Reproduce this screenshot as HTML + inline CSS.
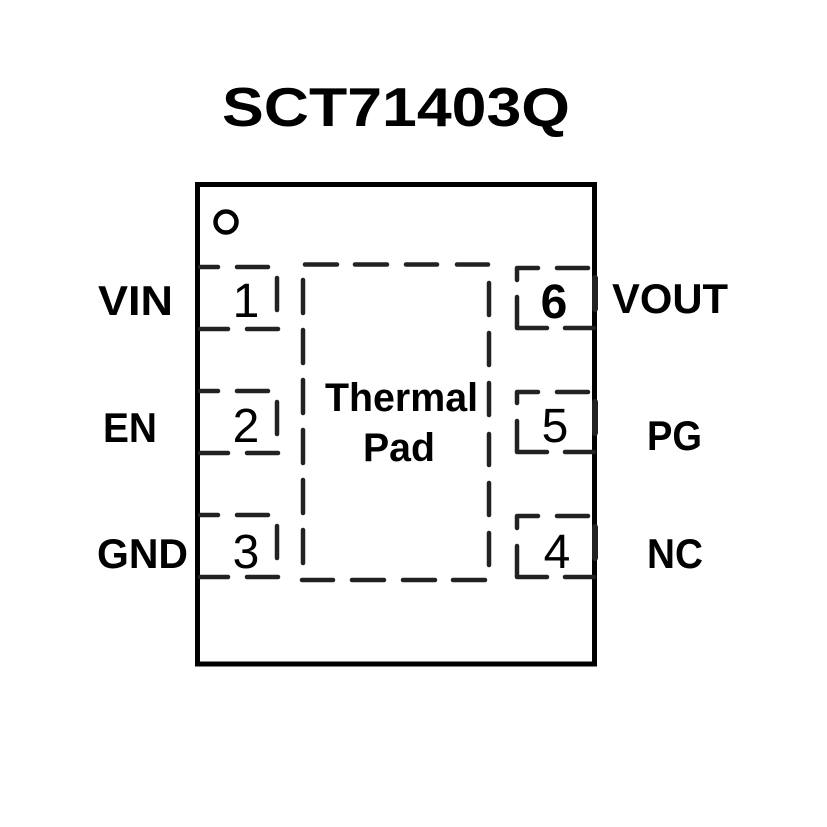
<!DOCTYPE html>
<html>
<head>
<meta charset="utf-8">
<style>
  html,body{margin:0;padding:0;background:#fff;}
  svg{display:block;}
  .lbl{font-family:"Liberation Sans",Arial,sans-serif;font-weight:bold;fill:#000;}
  .num{font-family:"Liberation Sans",Arial,sans-serif;fill:#000;}
</style>
</head>
<body>
<svg width="827" height="827" viewBox="0 0 827 827" xmlns="http://www.w3.org/2000/svg">
  <rect width="827" height="827" fill="#fff"/>

  <!-- Title -->
  <text class="lbl" x="222" y="126" font-size="55" textLength="348" lengthAdjust="spacingAndGlyphs">SCT71403Q</text>

  <!-- Outline -->
  <rect x="197.5" y="184.5" width="397" height="479.5" fill="none" stroke="#000" stroke-width="5"/>

  <!-- pin-1 marker -->
  <circle cx="226" cy="222" r="10.5" fill="none" stroke="#000" stroke-width="4.5"/>

  <!-- Thermal pad dashed -->
  <g stroke="#222" stroke-width="4.5" stroke-linecap="round" fill="none">
    <!-- top -->
    <line x1="305" y1="264.5" x2="337" y2="264.5"/>
    <line x1="355" y1="264.5" x2="387" y2="264.5"/>
    <line x1="406" y1="264.5" x2="437" y2="264.5"/>
    <line x1="457" y1="264.5" x2="488" y2="264.5"/>
    <!-- bottom -->
    <line x1="302" y1="580" x2="333" y2="580"/>
    <line x1="352" y1="580" x2="384" y2="580"/>
    <line x1="403" y1="580" x2="435" y2="580"/>
    <line x1="453" y1="580" x2="485" y2="580"/>
    <!-- left -->
    <line x1="303" y1="280" x2="303" y2="313"/>
    <line x1="303" y1="330" x2="303" y2="363"/>
    <line x1="303" y1="380" x2="303" y2="413"/>
    <line x1="303" y1="430" x2="303" y2="463"/>
    <line x1="303" y1="480" x2="303" y2="513"/>
    <line x1="303" y1="530" x2="303" y2="563"/>
    <!-- right -->
    <line x1="489" y1="283" x2="489" y2="315"/>
    <line x1="489" y1="333" x2="489" y2="365"/>
    <line x1="489" y1="383" x2="489" y2="415"/>
    <line x1="489" y1="434" x2="489" y2="465"/>
    <line x1="489" y1="483" x2="489" y2="515"/>
    <line x1="489" y1="533" x2="489" y2="565"/>
  </g>

  <!-- Left pin boxes -->
  <g stroke="#222" stroke-width="4.5" stroke-linecap="round" fill="none">
    <!-- pin 1: T=267 B=329 -->
    <line x1="200" y1="267" x2="218" y2="267"/>
    <line x1="237" y1="267" x2="268" y2="267"/>
    <line x1="277" y1="278" x2="277" y2="310"/>
    <line x1="200" y1="329" x2="228" y2="329"/>
    <line x1="247" y1="329" x2="278" y2="329"/>
    <!-- pin 2: T=391 B=453 -->
    <line x1="200" y1="391" x2="218" y2="391"/>
    <line x1="237" y1="391" x2="268" y2="391"/>
    <line x1="277" y1="402" x2="277" y2="434"/>
    <line x1="200" y1="453" x2="228" y2="453"/>
    <line x1="247" y1="453" x2="278" y2="453"/>
    <!-- pin 3: T=515 B=577 -->
    <line x1="200" y1="515" x2="218" y2="515"/>
    <line x1="237" y1="515" x2="268" y2="515"/>
    <line x1="277" y1="526" x2="277" y2="558"/>
    <line x1="200" y1="577" x2="228" y2="577"/>
    <line x1="247" y1="577" x2="278" y2="577"/>
  </g>

  <!-- Right pin boxes -->
  <g stroke="#222" stroke-width="4.5" stroke-linecap="round" fill="none" stroke-linejoin="round">
    <!-- pin 6: T=268 B=328 -->
    <polyline points="517,280 517,268 538,268"/>
    <line x1="557" y1="268" x2="588" y2="268"/>
    <polyline points="517,297 517,328 547,328"/>
    <line x1="565" y1="328" x2="594" y2="328"/>
    <line x1="595" y1="278" x2="595" y2="309" stroke-width="6"/>
    <!-- pin 5: T=392 B=452 -->
    <polyline points="517,403 517,392 538,392"/>
    <line x1="557" y1="392" x2="588" y2="392"/>
    <polyline points="517,421 517,452 547,452"/>
    <line x1="565" y1="452" x2="594" y2="452"/>
    <line x1="595" y1="402" x2="595" y2="433" stroke-width="6"/>
    <!-- pin 4: T=516 B=577 -->
    <polyline points="517,528 517,516 538,516"/>
    <line x1="557" y1="516" x2="588" y2="516"/>
    <polyline points="517,546 517,577 547,577"/>
    <line x1="565" y1="577" x2="594" y2="577"/>
    <line x1="595" y1="527" x2="595" y2="558" stroke-width="6"/>
  </g>

  <!-- Pin numbers -->
  <text class="num" x="246" y="317" font-size="48" text-anchor="middle">1</text>
  <text class="num" x="246" y="442" font-size="48" text-anchor="middle">2</text>
  <text class="num" x="246" y="568" font-size="48" text-anchor="middle">3</text>
  <text class="lbl" x="554" y="318" font-size="48" text-anchor="middle">6</text>
  <text class="num" x="555" y="442" font-size="48" text-anchor="middle">5</text>
  <text class="num" x="557" y="568" font-size="48" text-anchor="middle">4</text>

  <!-- Thermal pad label -->
  <text class="lbl" x="325" y="411" font-size="40" textLength="153" lengthAdjust="spacingAndGlyphs">Thermal</text>
  <text class="lbl" x="363" y="461" font-size="40" textLength="72" lengthAdjust="spacingAndGlyphs">Pad</text>

  <!-- Left labels -->
  <text class="lbl" x="98" y="315" font-size="42" textLength="75" lengthAdjust="spacingAndGlyphs">VIN</text>
  <text class="lbl" x="103" y="442" font-size="42" textLength="54" lengthAdjust="spacingAndGlyphs">EN</text>
  <text class="lbl" x="97" y="568" font-size="42" textLength="91" lengthAdjust="spacingAndGlyphs">GND</text>

  <!-- Right labels -->
  <text class="lbl" x="612" y="313" font-size="42" textLength="116" lengthAdjust="spacingAndGlyphs">VOUT</text>
  <text class="lbl" x="647" y="450" font-size="42" textLength="55" lengthAdjust="spacingAndGlyphs">PG</text>
  <text class="lbl" x="647" y="568" font-size="42" textLength="56" lengthAdjust="spacingAndGlyphs">NC</text>
</svg>
</body>
</html>
